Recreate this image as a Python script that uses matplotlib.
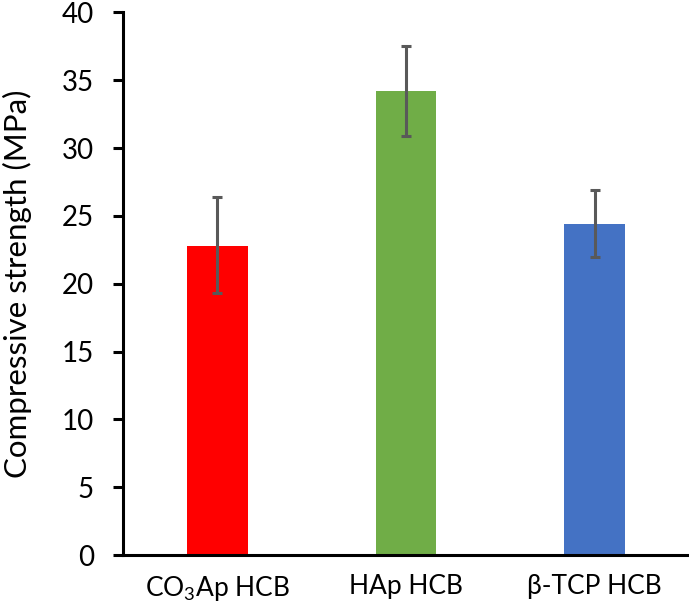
import numpy as np
import matplotlib
matplotlib.use("Agg")
import matplotlib.pyplot as plt

plt.rcParams['font.family'] = ['Lato', 'DejaVu Sans']
plt.rcParams['mathtext.fontset'] = 'custom'
plt.rcParams['mathtext.rm'] = 'Lato'
plt.rcParams['mathtext.default'] = 'regular'

# data
categories = ['CO$_3$Ap HCB', 'HAp HCB', 'β-TCP HCB']
strength = [22.8, 34.2, 24.4]
err_low = [3.5, 3.3, 2.4]
err_high = [3.6, 3.3, 2.5]
colors = ['#ff0000', '#70ad47', '#4472c4']

fig = plt.figure(figsize=(6.89, 6.05), dpi=100)
ax = fig.add_axes([0.1785, 0.0826, 0.8215, 0.897])

x = np.arange(len(categories))
ax.bar(x, strength, width=0.32, color=colors, zorder=2)
ax.errorbar(x, strength, yerr=[err_low, err_high], fmt='none',
            ecolor='#595959', elinewidth=2.2, capsize=3.6, capthick=2.2, zorder=3)

ax.set_xlim(-0.5, 2.5)
ax.set_ylim(0, 40)
ax.set_yticks(np.arange(0, 41, 5))
ax.set_xticks(x)
ax.set_xticklabels(categories)

for s in ['top', 'right']:
    ax.spines[s].set_visible(False)
for s in ['left', 'bottom']:
    ax.spines[s].set_linewidth(2.2)

ax.tick_params(axis='y', direction='out', length=7, width=2.2, labelsize=20, pad=14)
ax.tick_params(axis='x', length=0, labelsize=19, pad=14)
ax.set_ylabel('Compressive strength (MPa)', fontsize=22.5)
ax.yaxis.set_label_coords(-0.16, 0.5)

fig.savefig('out.png', dpi=100)
